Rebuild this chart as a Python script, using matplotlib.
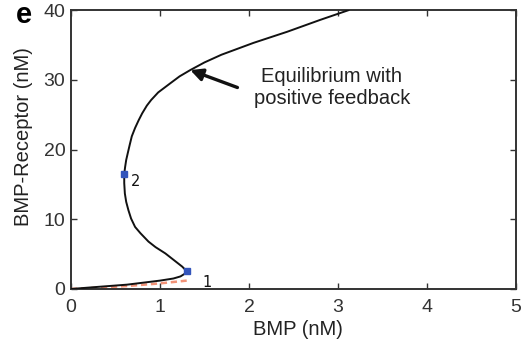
import matplotlib
matplotlib.use("Agg")
import matplotlib.pyplot as plt

# Equilibrium curve (BMP, BMP-Receptor)
curve_bmp = [0.0, 0.25, 0.63, 1.0, 1.15, 1.23, 1.28, 1.30,
             1.25, 1.19, 1.06, 0.95, 0.87, 0.78, 0.72, 0.675, 0.645, 0.62,
             0.605, 0.598, 0.598, 0.608, 0.62, 0.638, 0.66, 0.683, 0.72,
             0.76, 0.80, 0.852, 0.90, 0.98, 1.115, 1.22, 1.34, 1.50, 1.69,
             2.05, 2.43, 2.80, 3.12]
curve_rec = [0.0, 0.25, 0.62, 1.2, 1.5, 1.8, 2.2, 2.55,
             3.2, 3.8, 5.1, 6.0, 6.8, 8.0, 8.9, 10.1, 11.3, 12.5,
             13.7, 15.2, 16.5, 17.5, 18.5, 19.5, 20.7, 21.9, 23.1,
             24.2, 25.2, 26.3, 27.1, 28.2, 29.5, 30.5, 31.4, 32.5, 33.6,
             35.3, 36.9, 38.6, 40.0]

# Red dashed line (without feedback)
red_bmp = [0.0, 0.3, 0.63, 1.0, 1.30]
red_rec = [0.0, 0.18, 0.42, 0.8, 1.2]

# Fold points
fold_bmp = [1.30, 0.598]
fold_rec = [2.55, 16.5]
fold_labels = ["1", "2"]
fold_label_pos = [(1.53, 1.0), (0.73, 15.4)]

xticks = [0, 1, 2, 3, 4, 5]
yticks = [0, 10, 20, 30, 40]

plt.rcParams['font.family'] = ['Liberation Sans', 'DejaVu Sans']

fig = plt.figure(figsize=(5.26, 3.49), dpi=100)
ax = fig.add_axes([0.135, 0.172, 0.846, 0.799])

ax.plot(red_bmp, red_rec, color='#f08060', lw=1.8, ls=(0, (2.5, 1.5)), alpha=0.85, zorder=2)
ax.plot(curve_bmp, curve_rec, color='#111111', lw=1.4, zorder=3,
        solid_joinstyle='round', solid_capstyle='round')
ax.plot(fold_bmp, fold_rec, 's', color='#3355bb', ms=5, zorder=4)
for lab, (lx, ly) in zip(fold_labels, fold_label_pos):
    ax.text(lx, ly, lab, fontsize=10.5, family='DejaVu Sans', va='center', ha='center',
            color='#111111')

# Arrow and annotation text
ax.annotate("", xy=(1.34, 31.4), xytext=(1.87, 28.9),
            arrowprops=dict(arrowstyle='-|>', color='#111111', lw=2.4,
                            mutation_scale=18, shrinkA=0, shrinkB=0))
ax.text(2.93, 28.9, "Equilibrium with\npositive feedback", fontsize=14.5,
        ha='center', va='center', multialignment='center', linespacing=1.2,
        color='#222222')

ax.set_xlim(0, 5)
ax.set_ylim(0, 40)
ax.set_xticks(xticks)
ax.set_yticks(yticks)
ax.tick_params(direction='in', top=True, right=True, length=4, width=1,
               labelsize=14, colors='#333333')
ax.tick_params(axis='x', pad=7)
ax.tick_params(axis='y', pad=4)
for s in ax.spines.values():
    s.set_linewidth(1.4)
    s.set_color('#333333')
ax.set_xlabel("BMP (nM)", fontsize=14.5, color='#222222')
ax.set_ylabel("BMP-Receptor (nM)", fontsize=14.5, color='#222222')
ax.xaxis.set_label_coords(0.511, -0.147)
ax.yaxis.set_label_coords(-0.107, 0.545)
ax.xaxis.label.set_va('center')
ax.yaxis.label.set_va('center')

fig.text(0.030, 0.958, "e", fontsize=21, fontweight='bold', va='center', ha='left')

fig.savefig("out.png", dpi=100)
